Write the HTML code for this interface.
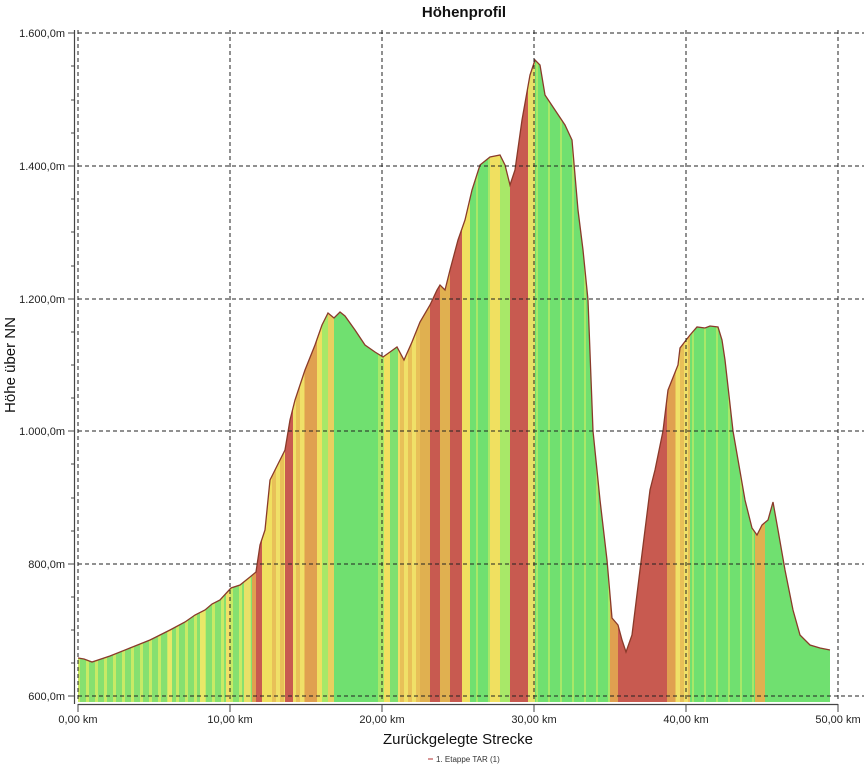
<!DOCTYPE html>
<html><head><meta charset="utf-8"><style>
html,body{margin:0;padding:0;background:#fff;}
svg{display:block;font-family:"Liberation Sans",sans-serif;}
</style></head><body>
<svg width="864" height="768" viewBox="0 0 864 768" xmlns="http://www.w3.org/2000/svg">
<defs>
<clipPath id="prof"><polygon points="78,702 78,658 84,659 92,662 110,656 130,648 150,640 160,635 170,630 185,622 195,615 205,610 212,604 220,600 231,588 240,585 250,577 256,572 260,545 265,530 270,480 275,470 285,450 290,420 295,400 305,370 315,345 322,325 328,313 334,318 340,312 345,316 355,330 365,345 375,352 383,357 390,352 397,347 404,360 412,342 420,322 430,305 437,290 440,285 445,290 450,270 458,240 465,220 472,190 480,165 490,157 500,155 505,165 510,185 515,170 522,120 530,75 535,60 540,65 545,95 555,110 565,125 572,140 578,210 583,250 588,300 593,431 600,500 607,560 612,618 618,625 622,640 626,652 632,635 640,570 650,490 655,470 663,431 668,390 678,365 680,348 690,335 697,327 705,328 710,326 718,327 722,340 725,360 733,431 745,500 752,528 757,535 762,525 768,520 773,502 778,530 785,570 793,610 800,635 810,645 820,648 830,650 830,702"/></clipPath>
<pattern id="lg" width="9" height="4" patternUnits="userSpaceOnUse"><rect width="9" height="4" fill="#86e070"/><rect x="5" width="3" height="4" fill="#c8ea66"/></pattern>
<pattern id="or" width="8" height="4" patternUnits="userSpaceOnUse"><rect width="8" height="4" fill="#e8c058"/><rect x="4" width="4" height="4" fill="#f0e068"/></pattern>
<pattern id="gr" width="12" height="4" patternUnits="userSpaceOnUse"><rect width="12" height="4" fill="#70e070"/><rect x="8" width="2" height="4" fill="#a8e868"/></pattern>
</defs>
<g clip-path="url(#prof)">
<rect x="78" y="0" width="180" height="702" fill="url(#lg)"/>
<rect x="168" y="0" width="4" height="702" fill="#e8e868"/>
<rect x="200" y="0" width="5" height="702" fill="#e8e868"/>
<rect x="226" y="0" width="4" height="702" fill="#f0e068"/>
<rect x="244" y="0" width="6" height="702" fill="#e8e068"/>
<rect x="252" y="0" width="4" height="702" fill="#e0a050"/>
<rect x="256" y="0" width="6" height="702" fill="#c85a50"/>
<rect x="262" y="0" width="10" height="702" fill="#f0e060"/>
<rect x="272" y="0" width="13" height="702" fill="url(#or)"/>
<rect x="285" y="0" width="8" height="702" fill="#c85a50"/>
<rect x="293" y="0" width="12" height="702" fill="url(#or)"/>
<rect x="305" y="0" width="12" height="702" fill="#e0a050"/>
<rect x="317" y="0" width="5" height="702" fill="#f0e060"/>
<rect x="322" y="0" width="6" height="702" fill="#a8e868"/>
<rect x="328" y="0" width="6" height="702" fill="#e8d060"/>
<rect x="334" y="0" width="44" height="702" fill="#70e070"/>
<rect x="378" y="0" width="6" height="702" fill="#a8e868"/>
<rect x="384" y="0" width="6" height="702" fill="#f0e060"/>
<rect x="390" y="0" width="8" height="702" fill="#80e070"/>
<rect x="398" y="0" width="22" height="702" fill="url(#or)"/>
<rect x="420" y="0" width="10" height="702" fill="#e0b050"/>
<rect x="430" y="0" width="10" height="702" fill="#c85a50"/>
<rect x="440" y="0" width="10" height="702" fill="#e0b050"/>
<rect x="450" y="0" width="12" height="702" fill="#c85a50"/>
<rect x="462" y="0" width="8" height="702" fill="#f0e060"/>
<rect x="470" y="0" width="20" height="702" fill="url(#gr)"/>
<rect x="490" y="0" width="10" height="702" fill="#f0e060"/>
<rect x="500" y="0" width="10" height="702" fill="#a8e868"/>
<rect x="510" y="0" width="18" height="702" fill="#c85a50"/>
<rect x="528" y="0" width="7" height="702" fill="#e8e068"/>
<rect x="535" y="0" width="75" height="702" fill="url(#gr)"/>
<rect x="610" y="0" width="8" height="702" fill="#e0a050"/>
<rect x="618" y="0" width="49" height="702" fill="#c85a50"/>
<rect x="667" y="0" width="8" height="702" fill="#e0a050"/>
<rect x="675" y="0" width="15" height="702" fill="url(#or)"/>
<rect x="690" y="0" width="65" height="702" fill="url(#gr)"/>
<rect x="755" y="0" width="10" height="702" fill="#e0b050"/>
<rect x="765" y="0" width="70" height="702" fill="#70e070"/>
</g>
<polyline fill="none" stroke="#8a3a2a" stroke-width="1.3" points="78,658 84,659 92,662 110,656 130,648 150,640 160,635 170,630 185,622 195,615 205,610 212,604 220,600 231,588 240,585 250,577 256,572 260,545 265,530 270,480 275,470 285,450 290,420 295,400 305,370 315,345 322,325 328,313 334,318 340,312 345,316 355,330 365,345 375,352 383,357 390,352 397,347 404,360 412,342 420,322 430,305 437,290 440,285 445,290 450,270 458,240 465,220 472,190 480,165 490,157 500,155 505,165 510,185 515,170 522,120 530,75 535,60 540,65 545,95 555,110 565,125 572,140 578,210 583,250 588,300 593,431 600,500 607,560 612,618 618,625 622,640 626,652 632,635 640,570 650,490 655,470 663,431 668,390 678,365 680,348 690,335 697,327 705,328 710,326 718,327 722,340 725,360 733,431 745,500 752,528 757,535 762,525 768,520 773,502 778,530 785,570 793,610 800,635 810,645 820,648 830,650"/>
<g stroke="#222" stroke-width="1" stroke-dasharray="4,3" fill="none">
<line x1="78" y1="33" x2="864" y2="33"/><line x1="78" y1="166" x2="864" y2="166"/>
<line x1="78" y1="299" x2="864" y2="299"/><line x1="78" y1="431" x2="864" y2="431"/>
<line x1="78" y1="564" x2="864" y2="564"/><line x1="78" y1="696" x2="864" y2="696"/>
<line x1="78" y1="30" x2="78" y2="702"/><line x1="230" y1="30" x2="230" y2="702"/>
<line x1="382" y1="30" x2="382" y2="702"/><line x1="534" y1="30" x2="534" y2="702"/>
<line x1="686" y1="30" x2="686" y2="702"/><line x1="838" y1="30" x2="838" y2="702"/>
</g>
<g stroke="#444" stroke-width="1.2">
<line x1="74.5" y1="30" x2="74.5" y2="704"/>
<line x1="78" y1="704.5" x2="838" y2="704.5"/>
</g>
<g stroke="#444" stroke-width="1">
<line x1="68" y1="33" x2="75" y2="33"/><line x1="71" y1="66" x2="75" y2="66"/><line x1="71" y1="100" x2="75" y2="100"/><line x1="71" y1="133" x2="75" y2="133"/>
<line x1="68" y1="166" x2="75" y2="166"/><line x1="71" y1="199" x2="75" y2="199"/><line x1="71" y1="232" x2="75" y2="232"/><line x1="71" y1="266" x2="75" y2="266"/>
<line x1="68" y1="299" x2="75" y2="299"/><line x1="71" y1="332" x2="75" y2="332"/><line x1="71" y1="365" x2="75" y2="365"/><line x1="71" y1="398" x2="75" y2="398"/>
<line x1="68" y1="431" x2="75" y2="431"/><line x1="71" y1="464" x2="75" y2="464"/><line x1="71" y1="498" x2="75" y2="498"/><line x1="71" y1="531" x2="75" y2="531"/>
<line x1="68" y1="564" x2="75" y2="564"/><line x1="71" y1="597" x2="75" y2="597"/><line x1="71" y1="630" x2="75" y2="630"/><line x1="71" y1="663" x2="75" y2="663"/>
<line x1="68" y1="696" x2="75" y2="696"/>
<line x1="78" y1="704" x2="78" y2="712"/><line x1="230" y1="704" x2="230" y2="712"/><line x1="382" y1="704" x2="382" y2="712"/><line x1="534" y1="704" x2="534" y2="712"/><line x1="686" y1="704" x2="686" y2="712"/><line x1="838" y1="704" x2="838" y2="712"/>
</g>
<g font-size="11" fill="#222" text-anchor="end">
<text x="65" y="37">1.600,0m</text><text x="65" y="170">1.400,0m</text><text x="65" y="303">1.200,0m</text>
<text x="65" y="435">1.000,0m</text><text x="65" y="568">800,0m</text><text x="65" y="700">600,0m</text>
</g>
<g font-size="11" fill="#222" text-anchor="middle">
<text x="78" y="723">0,00 km</text><text x="230" y="723">10,00 km</text><text x="382" y="723">20,00 km</text>
<text x="534" y="723">30,00 km</text><text x="686" y="723">40,00 km</text><text x="838" y="723">50,00 km</text>
</g>
<text x="464" y="17" font-size="15" font-weight="bold" text-anchor="middle" fill="#111">Höhenprofil</text>
<text x="458" y="744" font-size="15" text-anchor="middle" fill="#111">Zurückgelegte Strecke</text>
<text transform="translate(15,365) rotate(-90)" font-size="15" text-anchor="middle" fill="#111">Höhe über NN</text>
<line x1="428" y1="759" x2="433" y2="759" stroke="#b03030"/>
<text x="436" y="762" font-size="8" fill="#333">1. Etappe TAR (1)</text>
</svg>
</body></html>
